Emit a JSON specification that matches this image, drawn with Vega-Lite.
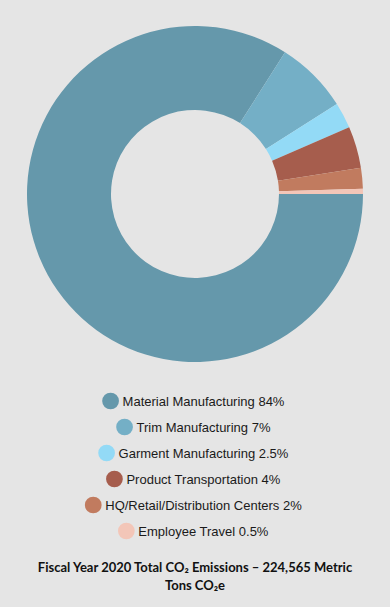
{
  "$schema": "https://vega.github.io/schema/vega-lite/v6.json",
  "background": "#e5e5e5",
  "padding": 0,
  "spacing": 0,
  "center": true,
  "config": {"view": {"stroke": null}, "concat": {"spacing": 0}},
  "datasets": {
    "slices": [
      {"order": 1, "category": "Material Manufacturing", "pct": 84, "label": "Material Manufacturing 84%"},
      {"order": 2, "category": "Trim Manufacturing", "pct": 7, "label": "Trim Manufacturing 7%"},
      {"order": 3, "category": "Garment Manufacturing", "pct": 2.5, "label": "Garment Manufacturing 2.5%"},
      {"order": 4, "category": "Product Transportation", "pct": 4, "label": "Product Transportation 4%"},
      {"order": 5, "category": "HQ/Retail/Distribution Centers", "pct": 2, "label": "HQ/Retail/Distribution Centers 2%"},
      {"order": 6, "category": "Employee Travel", "pct": 0.5, "label": "Employee Travel 0.5%"}
    ],
    "titles": [
      {"text": "Fiscal Year 2020 Total CO₂ Emissions – 224,565 Metric\nTons CO₂e"}
    ]
  },
  "vconcat": [
    {
      "width": 390,
      "height": 388,
      "data": {"name": "slices"},
      "mark": {"type": "arc", "innerRadius": 84, "outerRadius": 168},
      "encoding": {
        "theta": {"field": "pct", "type": "quantitative", "stack": true, "scale": {"range": [1.5707963, 7.8539816]}},
        "order": {"field": "order", "type": "quantitative"},
        "color": {
          "field": "category", "type": "nominal", "legend": null,
          "scale": {
            "domain": ["Material Manufacturing", "Trim Manufacturing", "Garment Manufacturing", "Product Transportation", "HQ/Retail/Distribution Centers", "Employee Travel"],
            "range": ["#6598ab", "#74afc6", "#93daf6", "#a65d4d", "#c17b5f", "#f3c6b8"]
          }
        }
      }
    },
    {
      "width": 10, "height": 26,
      "data": {"name": "slices"},
      "transform": [{"filter": "datum.order == 1"}],
      "layer": [
        {"mark": {"type": "point", "filled": true, "opacity": 1, "size": 280, "shape": "circle"},
         "encoding": {"color": {"field": "category", "type": "nominal", "legend": null, "scale": {"domain": ["Material Manufacturing", "Trim Manufacturing", "Garment Manufacturing", "Product Transportation", "HQ/Retail/Distribution Centers", "Employee Travel"], "range": ["#6598ab", "#74afc6", "#93daf6", "#a65d4d", "#c17b5f", "#f3c6b8"]}}}},
        {"mark": {"type": "text", "align": "left", "baseline": "middle", "dx": 12, "dy": 1, "font": "Liberation Sans", "fontSize": 13, "fill": "#1a1a1a"},
         "encoding": {"text": {"field": "label"}}}
      ]
    },
    {
      "width": 10, "height": 26,
      "data": {"name": "slices"},
      "transform": [{"filter": "datum.order == 2"}],
      "layer": [
        {"mark": {"type": "point", "filled": true, "opacity": 1, "size": 280, "shape": "circle"},
         "encoding": {"color": {"field": "category", "type": "nominal", "legend": null, "scale": {"domain": ["Material Manufacturing", "Trim Manufacturing", "Garment Manufacturing", "Product Transportation", "HQ/Retail/Distribution Centers", "Employee Travel"], "range": ["#6598ab", "#74afc6", "#93daf6", "#a65d4d", "#c17b5f", "#f3c6b8"]}}}},
        {"mark": {"type": "text", "align": "left", "baseline": "middle", "dx": 12, "dy": 1, "font": "Liberation Sans", "fontSize": 13, "fill": "#1a1a1a"},
         "encoding": {"text": {"field": "label"}}}
      ]
    },
    {
      "width": 10, "height": 26,
      "data": {"name": "slices"},
      "transform": [{"filter": "datum.order == 3"}],
      "layer": [
        {"mark": {"type": "point", "filled": true, "opacity": 1, "size": 280, "shape": "circle"},
         "encoding": {"color": {"field": "category", "type": "nominal", "legend": null, "scale": {"domain": ["Material Manufacturing", "Trim Manufacturing", "Garment Manufacturing", "Product Transportation", "HQ/Retail/Distribution Centers", "Employee Travel"], "range": ["#6598ab", "#74afc6", "#93daf6", "#a65d4d", "#c17b5f", "#f3c6b8"]}}}},
        {"mark": {"type": "text", "align": "left", "baseline": "middle", "dx": 12, "dy": 1, "font": "Liberation Sans", "fontSize": 13, "fill": "#1a1a1a"},
         "encoding": {"text": {"field": "label"}}}
      ]
    },
    {
      "width": 10, "height": 26,
      "data": {"name": "slices"},
      "transform": [{"filter": "datum.order == 4"}],
      "layer": [
        {"mark": {"type": "point", "filled": true, "opacity": 1, "size": 280, "shape": "circle"},
         "encoding": {"color": {"field": "category", "type": "nominal", "legend": null, "scale": {"domain": ["Material Manufacturing", "Trim Manufacturing", "Garment Manufacturing", "Product Transportation", "HQ/Retail/Distribution Centers", "Employee Travel"], "range": ["#6598ab", "#74afc6", "#93daf6", "#a65d4d", "#c17b5f", "#f3c6b8"]}}}},
        {"mark": {"type": "text", "align": "left", "baseline": "middle", "dx": 12, "dy": 1, "font": "Liberation Sans", "fontSize": 13, "fill": "#1a1a1a"},
         "encoding": {"text": {"field": "label"}}}
      ]
    },
    {
      "width": 10, "height": 26,
      "data": {"name": "slices"},
      "transform": [{"filter": "datum.order == 5"}],
      "layer": [
        {"mark": {"type": "point", "filled": true, "opacity": 1, "size": 280, "shape": "circle"},
         "encoding": {"color": {"field": "category", "type": "nominal", "legend": null, "scale": {"domain": ["Material Manufacturing", "Trim Manufacturing", "Garment Manufacturing", "Product Transportation", "HQ/Retail/Distribution Centers", "Employee Travel"], "range": ["#6598ab", "#74afc6", "#93daf6", "#a65d4d", "#c17b5f", "#f3c6b8"]}}}},
        {"mark": {"type": "text", "align": "left", "baseline": "middle", "dx": 12, "dy": 1, "font": "Liberation Sans", "fontSize": 13, "fill": "#1a1a1a"},
         "encoding": {"text": {"field": "label"}}}
      ]
    },
    {
      "width": 10, "height": 26,
      "data": {"name": "slices"},
      "transform": [{"filter": "datum.order == 6"}],
      "layer": [
        {"mark": {"type": "point", "filled": true, "opacity": 1, "size": 280, "shape": "circle"},
         "encoding": {"color": {"field": "category", "type": "nominal", "legend": null, "scale": {"domain": ["Material Manufacturing", "Trim Manufacturing", "Garment Manufacturing", "Product Transportation", "HQ/Retail/Distribution Centers", "Employee Travel"], "range": ["#6598ab", "#74afc6", "#93daf6", "#a65d4d", "#c17b5f", "#f3c6b8"]}}}},
        {"mark": {"type": "text", "align": "left", "baseline": "middle", "dx": 12, "dy": 1, "font": "Liberation Sans", "fontSize": 13, "fill": "#1a1a1a"},
         "encoding": {"text": {"field": "label"}}}
      ]
    },
    {
      "width": 390,
      "height": 63,
      "data": {"name": "titles"},
      "mark": {"type": "text", "font": "Lato", "fontWeight": "bold", "fontSize": 13, "lineBreak": "\n", "lineHeight": 18, "align": "center", "baseline": "middle", "dy": -8, "fill": "#111111"},
      "encoding": {"text": {"field": "text"}}
    }
  ]
}
